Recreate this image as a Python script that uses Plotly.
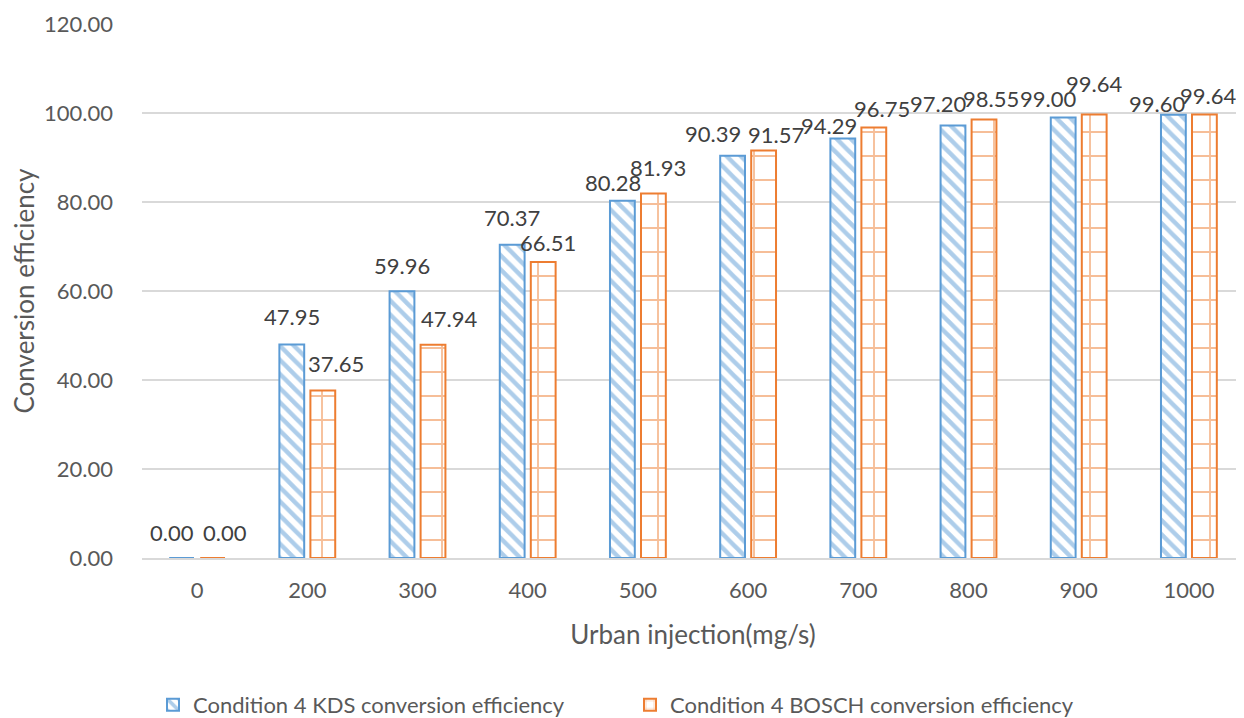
import plotly.graph_objects as go

# chart data
injection = ["0", "200", "300", "400", "500", "600", "700", "800", "900", "1000"]
kds_eff = [0.00, 47.95, 59.96, 70.37, 80.28, 90.39, 94.29, 97.20, 99.00, 99.60]
bosch_eff = [0.00, 37.65, 47.94, 66.51, 81.93, 91.57, 96.75, 98.55, 99.64, 99.64]
y_ticks = [0, 20, 40, 60, 80, 100, 120]

BLUE = "#5B9BD5"
ORANGE = "#ED7D31"
FONT = "Lato"
TEXT = "#595959"
SIZE = 22

# label nudges (px) mimicking Excel's collision handling: (dx, dy above bar top)
kds_nudge = [(-10, 26), (0, 28), (0, 26), (0, 27), (-9, 18),
             (-20, 22), (-14, 13), (-15, 22), (-15, 19), (-16, 11)]
bosch_nudge = [(12, 26), (13, 27), (16, 26), (5, 20), (5, 26),
               (12, 16), (8, 19), (7, 21), (0, 31), (4, 19)]
BAR_OFFSET = 15.5

fig = go.Figure()
fig.add_trace(
    go.Bar(
        x=injection,
        y=kds_eff,
        name="Condition 4 KDS conversion efficiency",
        marker={
            "color": BLUE,
            "line": {"color": BLUE, "width": 2},
            "pattern": {"shape": "\\", "fgcolor": BLUE, "bgcolor": "white",
                        "size": 10, "solidity": 0.45},
        },
        hovertemplate="%{x}: %{y:.2f}<extra></extra>",
    )
)
fig.add_trace(
    go.Bar(
        x=injection,
        y=bosch_eff,
        name="Condition 4 BOSCH conversion efficiency",
        marker={
            "color": ORANGE,
            "line": {"color": ORANGE, "width": 2},
            "pattern": {"shape": "+", "fgcolor": ORANGE, "bgcolor": "white",
                        "size": 24, "solidity": 0.15},
        },
        hovertemplate="%{x}: %{y:.2f}<extra></extra>",
    )
)

# value labels; on a category axis annotations take the category index
for values, nudges, side in ((kds_eff, kds_nudge, -1), (bosch_eff, bosch_nudge, 1)):
    for idx, (val, (dx, dy)) in enumerate(zip(values, nudges)):
        fig.add_annotation(
            x=idx,
            y=val,
            text=f"{val:.2f}",
            showarrow=False,
            xshift=side * BAR_OFFSET + dx,
            yshift=dy,
            yanchor="middle",
            font={"family": FONT, "size": SIZE, "color": "#404040"},
        )

fig.update_layout(
    width=1244,
    height=718,
    paper_bgcolor="white",
    plot_bgcolor="white",
    barmode="group",
    bargap=0.437,
    bargroupgap=0.2,
    margin={"l": 134, "r": 8, "t": 16, "b": 168, "autoexpand": False},
    font={"family": FONT, "size": SIZE, "color": TEXT},
    showlegend=True,
    legend={
        "orientation": "h",
        "xref": "container",
        "x": 0.5,
        "xanchor": "center",
        "y": -0.275,
        "yanchor": "middle",
        "entrywidth": 432,
        "font": {"family": FONT, "size": SIZE, "color": TEXT},
    },
    xaxis={
        "type": "category",
        "range": [-0.5, 9.5],
        "title": {"text": "Urban injection(mg/s)", "standoff": 24},
        "showline": True,
        "linecolor": "#D9D9D9",
        "linewidth": 1.5,
        "ticks": "",
        "ticklabelstandoff": 12,
        "showgrid": False,
    },
    yaxis={
        "title": {"text": "Conversion efficiency", "standoff": 7},
        "range": [0, 120],
        "tickvals": y_ticks,
        "tickformat": ".2f",
        "showgrid": True,
        "gridcolor": "#D9D9D9",
        "gridwidth": 1.5,
        "zeroline": False,
        "showline": False,
        "ticks": "",
        "ticklabelstandoff": 28,
    },
)

fig.write_html("out.html")
